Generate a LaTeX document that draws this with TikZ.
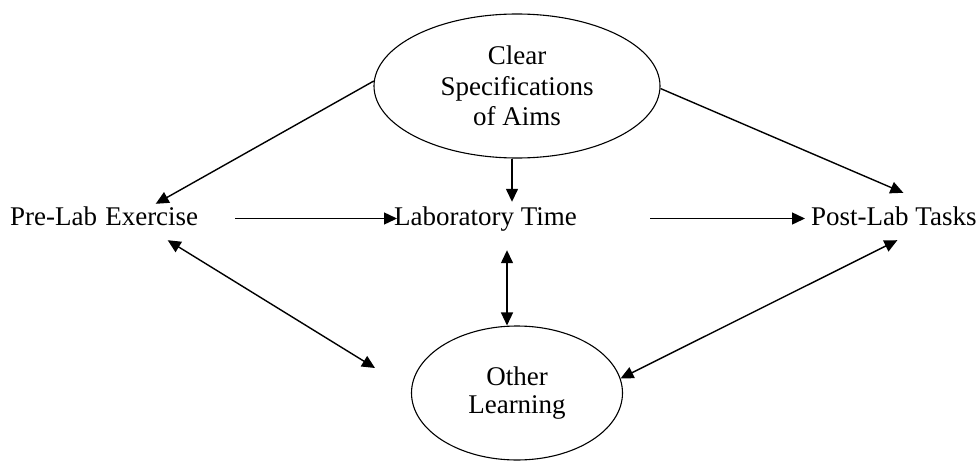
\documentclass[tikz,border=0pt]{standalone}
\usepackage{fontspec}
\setmainfont{Liberation Serif}
\usetikzlibrary{arrows.meta,shapes.geometric}
\begin{document}
\begin{tikzpicture}[x=1pt,y=-1pt,
  lbl/.style={inner sep=0pt, text height=19pt, text depth=6pt, font=\fontsize{27}{31}\selectfont},
  oval/.style={ellipse, draw, line width=1.1pt, inner sep=0pt, align=center, font=\fontsize{27}{30.5}\selectfont},
  conn/.style={line width=1.4pt, -{Triangle[length=13pt,width=12pt]}},
  dconn/.style={line width=1.4pt, {Triangle[length=13pt,width=12pt]}-{Triangle[length=13pt,width=12pt]}}]
\useasboundingbox (0,0) rectangle (980,463);
\node[oval, minimum width=286pt, minimum height=144pt] (aims) at (517,86) {Clear\\Specifications\\of Aims};
\node[oval, minimum width=211pt, minimum height=134pt, font=\fontsize{27}{28.5}\selectfont] (other) at (517,393) {Other\\Learning};
\node[lbl, anchor=base west] (pre) at (10,225) {Pre-Lab\hspace{0.3em}Exercise};
\node[lbl, anchor=base west] (lab) at (394,225) {Laboratory Time};
\node[lbl, anchor=base west] (post) at (811,225) {Post-Lab Tasks};
\coordinate (free) at (375,368);
\draw[conn] (aims.178) -- ([xshift=51.5pt,yshift=2pt]pre.north);
\draw[conn] ([xshift=-5pt]aims.south) -- ([xshift=-5pt,yshift=4pt]aims.south |- lab.north);
\draw[conn] (aims.359) -- ([xshift=9.5pt,yshift=13pt]post.north);
\draw[conn] ([xshift=37pt]pre.east) -- ([xshift=3pt]lab.west);
\draw[conn] ([xshift=73pt]lab.east) -- ([xshift=-6pt]post.west);
\draw[dconn] ([xshift=-10pt,yshift=-19pt]other.north |- lab.south) -- ([xshift=-10pt]other.north);
\draw[dconn] ([xshift=63.5pt,yshift=-9pt]pre.south) -- (free);
\draw[dconn] ([xshift=3.5pt,yshift=-9pt]post.south) -- (other.8);
\end{tikzpicture}
\end{document}
